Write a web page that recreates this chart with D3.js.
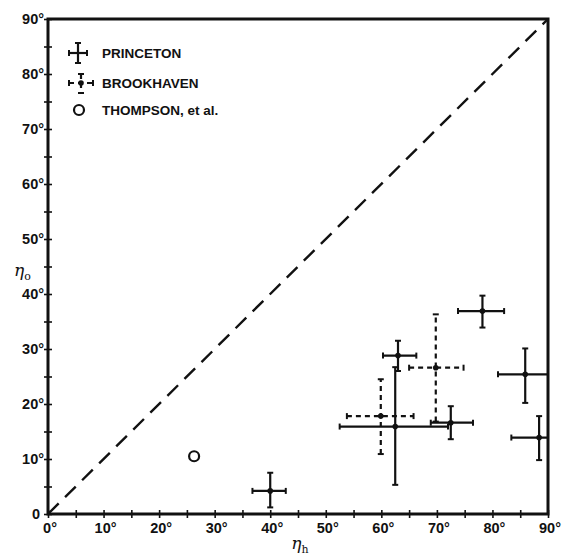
<!DOCTYPE html>
<html>
<head>
<meta charset="utf-8">
<script src="https://cdn.jsdelivr.net/npm/d3@7"></script>
<style>
  body { margin: 0; background: #fff; }
  text { font-family: "Liberation Sans", Arial, sans-serif; font-weight: bold; fill: #111; }
</style>
</head>
<body>
<div id="chart"></div>
<script>
// data (degrees)
var princetonX    = [40.0, 63.0, 62.5, 72.5, 78.2, 85.9, 88.4];
var princetonY    = [ 4.2, 28.8, 15.9, 16.6, 36.9, 25.4, 13.9];
var princetonXlo  = [36.8, 60.3, 52.5, 68.9, 73.8, 81.0, 83.4];
var princetonXhi  = [42.8, 66.3, 72.0, 76.5, 82.1, 90.0, 90.0];
var princetonYlo  = [ 1.2, 26.0,  5.3, 13.6, 33.9, 20.2,  9.8];
var princetonYhi  = [ 7.5, 31.5, 26.7, 19.6, 39.7, 30.1, 17.8];

var brookhavenX   = [59.9, 69.8];
var brookhavenY   = [17.8, 26.6];
var brookhavenXlo = [53.8, 65.0];
var brookhavenXhi = [65.8, 74.8];
var brookhavenYlo = [10.9, 16.8];
var brookhavenYhi = [24.5, 36.3];

var thompsonX = [26.3];
var thompsonY = [10.5];

var tickValues = [0, 10, 20, 30, 40, 50, 60, 70, 80, 90];
var legendLabels = ["PRINCETON", "BROOKHAVEN", "THOMPSON, et al."];

// set the dimensions and margins of the graph
var W = 562, H = 555;
var margin = {top: 19, right: 14, bottom: 41, left: 48},
    width = W - margin.left - margin.right,
    height = H - margin.top - margin.bottom;

var svg = d3.select("#chart")
  .append("svg")
    .attr("width", W)
    .attr("height", H)
  .append("g")
    .attr("transform", "translate(" + margin.left + "," + margin.top + ")");

var x = d3.scaleLinear().domain([0, 90]).range([0, width]);
var y = d3.scaleLinear().domain([0, 90]).range([height, 0]);

// axes, ticks crossing the frame line
var minor = d3.range(0, 91, 5);
var xAxis = svg.append("g")
  .attr("transform", "translate(0," + height + ")")
  .call(d3.axisBottom(x).tickValues(minor).tickSize(4).tickFormat(""));
xAxis.select(".domain").remove();
xAxis.selectAll(".tick line").attr("y1", -4).attr("stroke", "#111").attr("stroke-width", 1.6);

var yAxis = svg.append("g")
  .call(d3.axisLeft(y).tickValues(minor).tickSize(4).tickFormat(""));
yAxis.select(".domain").remove();
yAxis.selectAll(".tick line").attr("x1", 4).attr("stroke", "#111").attr("stroke-width", 1.6);

// tick labels
svg.append("g").selectAll("text")
  .data(tickValues)
  .enter().append("text")
    .attr("x", function(d) { return x(d) + 2; })
    .attr("y", height + 19)
    .attr("text-anchor", "middle")
    .style("font-size", "14.5px")
    .text(function(d) { return d + "°"; });

svg.append("g").selectAll("text")
  .data(tickValues)
  .enter().append("text")
    .attr("x", function(d) { return d == 0 ? -8 : -4; })
    .attr("y", function(d) { return y(d) + 5; })
    .attr("text-anchor", "end")
    .style("font-size", "14.5px")
    .text(function(d) { return d == 0 ? "0" : d + "°"; });

// frame
svg.append("rect")
  .attr("x", 0).attr("y", 0)
  .attr("width", width).attr("height", height)
  .attr("fill", "none")
  .attr("stroke", "#111")
  .attr("stroke-width", 3);

// diagonal
svg.append("line")
  .attr("x1", x(0)).attr("y1", y(0))
  .attr("x2", x(90)).attr("y2", y(90))
  .attr("stroke", "#111")
  .attr("stroke-width", 2.4)
  .attr("stroke-dasharray", "15,9");

// axis titles
var xt = svg.append("text")
  .attr("x", x(45) + 2)
  .attr("y", height + 35)
  .attr("text-anchor", "middle")
  .style("font-family", "'DejaVu Serif', serif")
  .style("font-style", "italic")
  .style("font-weight", "normal")
  .style("font-size", "17px");
xt.append("tspan").text("η");
xt.append("tspan").attr("dy", 4).style("font-size", "11px").style("font-style", "normal").text("h");

var yt = svg.append("text")
  .attr("x", -34)
  .attr("y", y(44) + 4)
  .style("font-family", "'DejaVu Serif', serif")
  .style("font-style", "italic")
  .style("font-weight", "normal")
  .style("font-size", "17px");
yt.append("tspan").text("η");
yt.append("tspan").attr("dy", 4).style("font-size", "11px").style("font-style", "normal").text("o");

// error bar cross
function cross(g, cx, cy, xlo, xhi, ylo, yhi, dashed, dot) {
  var dash = dashed ? "5,4" : null;
  var sw = 2.2, cap = 3;
  g.append("line").attr("x1", xlo).attr("x2", xhi).attr("y1", cy).attr("y2", cy)
    .attr("stroke", "#111").attr("stroke-width", sw).attr("stroke-dasharray", dash);
  g.append("line").attr("x1", cx).attr("x2", cx).attr("y1", ylo).attr("y2", yhi)
    .attr("stroke", "#111").attr("stroke-width", sw).attr("stroke-dasharray", dash);
  [xlo, xhi].forEach(function(v) {
    g.append("line").attr("x1", v).attr("x2", v).attr("y1", cy - cap).attr("y2", cy + cap)
      .attr("stroke", "#111").attr("stroke-width", 2);
  });
  [ylo, yhi].forEach(function(v) {
    g.append("line").attr("x1", cx - cap).attr("x2", cx + cap).attr("y1", v).attr("y2", v)
      .attr("stroke", "#111").attr("stroke-width", 2);
  });
  if (dot) g.append("circle").attr("cx", cx).attr("cy", cy).attr("r", 2.8).attr("fill", "#111");
}

var pts = svg.append("g");
princetonX.forEach(function(d, i) {
  cross(pts, x(d), y(princetonY[i]), x(princetonXlo[i]), x(princetonXhi[i]),
        y(princetonYlo[i]), y(princetonYhi[i]), false, true);
});
brookhavenX.forEach(function(d, i) {
  cross(pts, x(d), y(brookhavenY[i]), x(brookhavenXlo[i]), x(brookhavenXhi[i]),
        y(brookhavenYlo[i]), y(brookhavenYhi[i]), true, true);
});
pts.selectAll(".thompson")
  .data(thompsonX)
  .enter().append("circle")
    .attr("class", "thompson")
    .attr("cx", function(d) { return x(d); })
    .attr("cy", function(d, i) { return y(thompsonY[i]); })
    .attr("r", 5)
    .attr("fill", "none")
    .attr("stroke", "#111")
    .attr("stroke-width", 2.2);

// legend
var leg = svg.append("g");
cross(leg, 30, 34, 21, 39, 24, 44, false, false);
cross(leg, 33, 64, 21, 45, 55, 74, true, true);
leg.append("circle").attr("cx", 31).attr("cy", 91).attr("r", 5)
  .attr("fill", "none").attr("stroke", "#111").attr("stroke-width", 2.2);
legendLabels.forEach(function(t, i) {
  leg.append("text")
    .attr("x", 54)
    .attr("y", [39, 69, 96][i])
    .style("font-size", "13.5px")
    .text(t);
});
</script>
</body>
</html>
